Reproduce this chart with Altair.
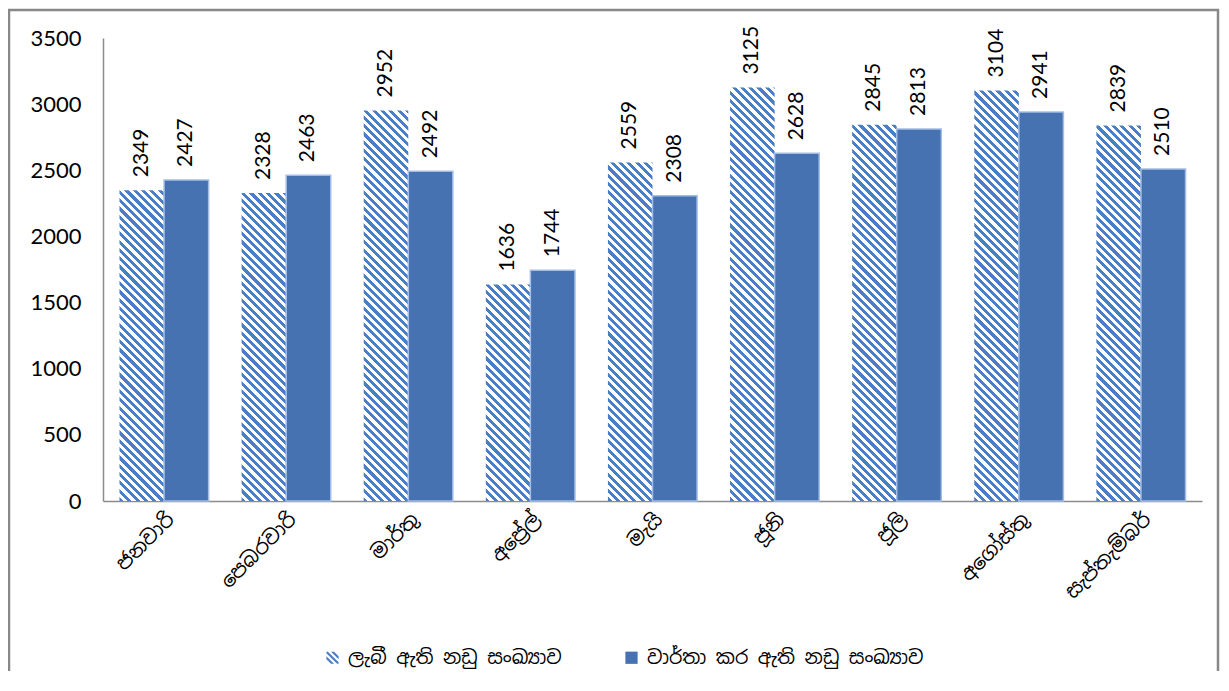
import altair as alt
import pandas as pd

months = ["ජනවාරි", "පෙබරවාරි", "මාර්තු", "අප්‍රේල්", "මැයි", "ජූනි", "ජූලි", "අගෝස්තු", "සැප්තැම්බර්"]
received = [2349, 2328, 2952, 1636, 2559, 3125, 2845, 3104, 2839]
reported = [2427, 2463, 2492, 1744, 2308, 2628, 2813, 2941, 2510]
series_a = "ලැබී ඇති නඩු සංඛ්‍යාව"
series_b = "වාර්තා කර ඇති නඩු සංඛ්‍යාව"
y_ticks = [0, 500, 1000, 1500, 2000, 2500, 3000, 3500]

rows = []
for m, a, b in zip(months, received, reported):
    rows.append({"month": m, "series": series_a, "value": a})
    rows.append({"month": m, "series": series_b, "value": b})
df = pd.DataFrame(rows)

PLOT_W, PLOT_H, YMAX = 1099, 463, 3500
PAD_IN = 0.27
STRIPE = "#4a7ec6"
DARK = "#4672b2"
SINH = "Noto Sans Sinhala, Noto Serif Sinhala, Noto Sans, sans-serif"
NUMF = "Lato"

step = PLOT_W / len(months)
bar_w = step * (1 - PAD_IN) / 2
period = 8.3
blue_frac = 0.5


def hatch(v):
    H = v / YMAX * PLOT_H
    W = bar_w
    L = W + H
    k = L / (W * W + H * H)
    stops = []
    t = 0.0
    while t < L:
        a = t / L
        b = min((t + period * blue_frac) / L, 1.0)
        c = min((t + period) / L, 1.0)
        stops += [
            alt.GradientStop(color=STRIPE, offset=a),
            alt.GradientStop(color=STRIPE, offset=b),
            alt.GradientStop(color="white", offset=b),
            alt.GradientStop(color="white", offset=c),
        ]
        t += period
    return alt.LinearGradient(gradient="linear", stops=stops,
                              x1=0, y1=1, x2=k * W, y2=1 - k * H)


x_enc = alt.X("month:N", sort=months, title=None,
              scale=alt.Scale(domain=months, paddingInner=PAD_IN, paddingOuter=PAD_IN / 2),
              axis=alt.Axis(labelAngle=315, labelAlign="right", labelBaseline="top",
                            labelPadding=8, labelFontSize=20, labelFont=SINH,
                            labelColor="#000", ticks=False, domainColor="#8c8c8c",
                            domainWidth=1.5))
xo_enc = alt.XOffset("series:N", scale=alt.Scale(domain=[series_a, series_b],
                                                  paddingInner=0, paddingOuter=0))
y_enc = alt.Y("value:Q", title=None,
              scale=alt.Scale(domain=[0, YMAX]),
              axis=alt.Axis(values=y_ticks, format="d", grid=False, ticks=False,
                            labelFontSize=22, labelFont=NUMF, labelColor="#000",
                            labelPadding=22, domainColor="#8c8c8c", domainWidth=1.5))

base = alt.Chart(df)

hatched_layers = []
for m, v in zip(months, received):
    hatched_layers.append(
        base.transform_filter(
            (alt.datum.month == m) & (alt.datum.series == series_a)
        ).mark_bar(fill=hatch(v)).encode(x=x_enc, xOffset=xo_enc, y=y_enc)
    )

dark = base.transform_filter(alt.datum.series == series_b).mark_bar(
    fill=DARK, stroke="#a3bde6", strokeWidth=1.5
).encode(x=x_enc, xOffset=xo_enc, y=y_enc)

stripe_path = ("M-1,-0.75L-1,-1L-0.75,-1L1,0.75L1,1L0.75,1Z"
               "M-0.25,-1L0.25,-1L1,-0.25L1,0.25Z"
               "M-1,-0.25L0.25,1L-0.25,1L-1,0.25Z")

# legend key points, kept underneath the bars (drawn first, low inside each bar)
legend_pts = base.mark_point(filled=True, size=20, opacity=1).encode(
    x=x_enc, xOffset=xo_enc, y=alt.datum(300),
    fill=alt.Fill("series:N", title=None,
                  scale=alt.Scale(domain=[series_a, series_b], range=[STRIPE, DARK]),
                  legend=alt.Legend(orient="none", legendX=220, legendY=610,
                                    direction="horizontal", symbolOpacity=1,
                                    symbolSize=150, labelFont=SINH, labelFontSize=19,
                                    labelColor="#000", columnPadding=60, labelOffset=6,
                                    labelLimit=400, symbolStrokeWidth=0)),
    shape=alt.Shape("series:N", title=None,
                    scale=alt.Scale(domain=[series_a, series_b], range=[stripe_path, "square"])),
)

labels = base.mark_text(angle=270, align="left", baseline="middle", dx=13,
                        fontSize=21, font=NUMF, color="#000").encode(
    x=x_enc, xOffset=xo_enc, y=y_enc, text=alt.Text("value:Q", format="d"))

frame = alt.Chart(pd.DataFrame({"d": [0]})).mark_rect(
    fill="transparent", stroke="#888888", strokeWidth=2.5
).encode(x=alt.value(-94), x2=alt.value(1115), y=alt.value(-28), y2=alt.value(720))

chart = alt.layer(frame, legend_pts, *hatched_layers, dark, labels).properties(
    width=PLOT_W, height=PLOT_H,
    autosize=alt.AutoSizeParams(type="none"),
    padding={"left": 95, "top": 30, "right": 18, "bottom": 170},
).configure_view(strokeWidth=0)

chart.save("out.html", embed_options={"renderer": "svg", "actions": False})
